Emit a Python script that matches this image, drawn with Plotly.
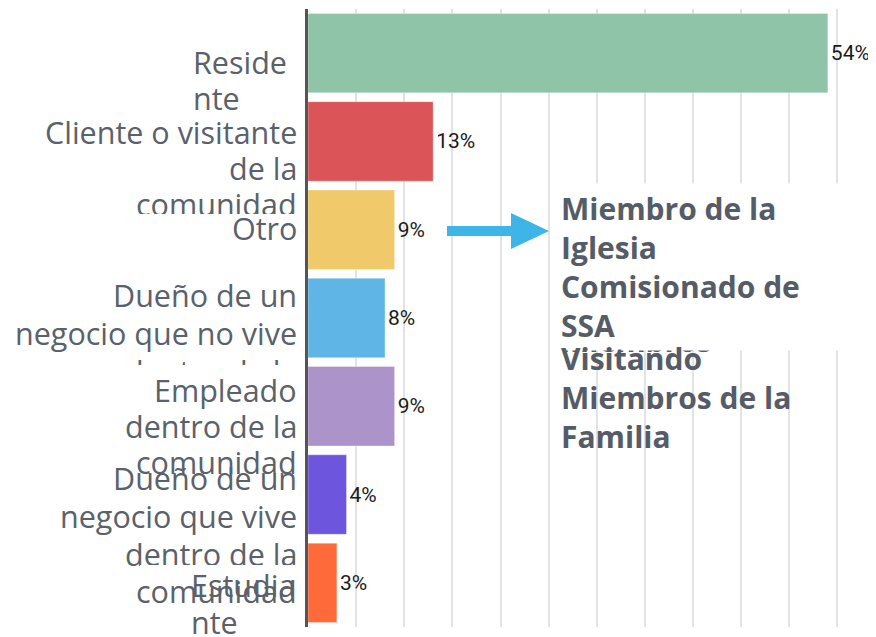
import plotly.graph_objects as go

# ---- data ----
categories = [
    "Residente",
    "Cliente o visitante de la comunidad",
    "Otro",
    "Dueño de un negocio que no vive dentro de la comunidad",
    "Empleado dentro de la comunidad",
    "Dueño de un negocio que vive dentro de la comunidad",
    "Estudiante",
]
values = [54, 13, 9, 8, 9, 4, 3]
value_labels = ["54%", "13%", "9%", "8%", "9%", "4%", "3%"]
label_lines = [
    ["Reside", "nte"],
    ["Cliente o visitante", "de la", "comunidad"],
    ["Otro"],
    ["Dueño de un", "negocio que no vive", "dentro de la", "comunidad"],
    ["Empleado", "dentro de la", "comunidad"],
    ["Dueño de un", "negocio que vive", "dentro de la", "comunidad"],
    ["Estudia", "nte"],
]
colors = ["#8FC4A8", "#DB5457", "#F0CA6A", "#5FB6E6", "#AC93C9", "#6D55DD", "#FF6A3A"]
other_box_text = "Miembro de la<br>Iglesia<br>Comisionado de<br>SSA"
other_hidden_text = "Miembros"
other_extra_text = "Visitando<br>Miembros de la<br>Familia"

# ---- style / layout (page pixels; the page body has an 8px margin) ----
BODY = 8
W, H = 876, 629
PLOT_RIGHT = 876          # page x where the plot area ends
ML, MT, MB = 300, 1, 10
MR = W + BODY - PLOT_RIGHT
PW, PH = W - ML - MR, H - MT - MB
X_MAX = 59

LABEL_SIZE = 30.5
label_first_baseline = [74, 144, 240, 307, 402, 490, 597]
label_step = [35.5, 36, 36, 38, 36, 37.7, 37]
label_anchor = [("left", 192), ("right", 298), ("right", 298), ("right", 298),
                ("right", 298), ("right", 298), ("left", 190)]
# white masks drawn before a given label: (label index, x0, x1, y0, y1)
masks = [
    (2, 130, 305, 214, 222),   # clips foot of "comunidad" above "Otro"
    (4, 0, 305, 365, 425),     # hides the tail of the label above "Empleado"
]
ARROW_COLOR = "#3DB5E6"


def px_x(px):
    return (px - BODY - ML) / PW


def px_y(py):
    return 1 - (py - BODY - MT) / PH


fig = go.Figure()
fig.add_trace(go.Bar(
    orientation="h",
    y=categories,
    x=values,
    text=value_labels,
    textposition="outside",
    constraintext="none",
    cliponaxis=False,
    textfont=dict(family="Roboto", size=21, color="#1a1a1a"),
    marker=dict(color=colors, line=dict(color="rgba(255,255,255,0.35)", width=1)),
    hoverinfo="skip",
))

annotations = []
label_font = dict(family="Open Sans", size=LABEL_SIZE, color="#5a616b")


def add_mask(x0, x1, y0, y1):
    annotations.append(dict(
        x=px_x(x0), xref="paper", y=px_y(y0), yref="paper", text=" ",
        showarrow=False, xanchor="left", yanchor="top", width=x1 - x0,
        height=y1 - y0, bgcolor="white", borderpad=0, borderwidth=0,
    ))


def add_line(text, anchor, x, baseline):
    centre = baseline - 0.357 * LABEL_SIZE - 1
    annotations.append(dict(
        x=px_x(x), xref="paper", y=px_y(centre), yref="paper", text=text,
        showarrow=False, xanchor=anchor, yanchor="middle", align=anchor,
        font=label_font, borderpad=0,
    ))


for i, lines in enumerate(label_lines):
    for m in masks:
        if m[0] == i:
            add_mask(*m[1:])
    anchor, x = label_anchor[i]
    for j, line in enumerate(lines):
        if i == 5 and j == 3:
            add_mask(140, 305, 565, 573)  # cut at the foot of "dentro de la"
        add_line(line, anchor, x, label_first_baseline[i] + j * label_step[i])

bold_font = dict(family="Open Sans", size=30, color="#555c67", weight="bold")
annotations.append(dict(
    x=px_x(556), xref="paper", y=px_y(340), yref="paper",
    text="<b>%s</b>" % other_hidden_text, showarrow=False,
    xanchor="left", yanchor="middle", align="left", font=bold_font, borderpad=4,
))
annotations.append(dict(
    x=px_x(556), xref="paper", y=px_y(183), yref="paper",
    text="<b>%s</b>" % other_box_text, showarrow=False,
    xanchor="left", yanchor="top", align="left", font=bold_font,
    bgcolor="white", borderpad=4, width=281,
))
annotations.append(dict(
    x=px_x(556), xref="paper", y=px_y(397), yref="paper",
    text="<b>%s</b>" % other_extra_text, showarrow=False,
    xanchor="left", yanchor="middle", align="left", font=bold_font, borderpad=4,
))

# arrow pointing at the "other" answers (decoration)
shapes = [
    dict(type="line", xref="paper", yref="paper", layer="above",
         x0=px_x(447), x1=px_x(513), y0=px_y(231), y1=px_y(231),
         line=dict(color=ARROW_COLOR, width=10)),
    dict(type="path", xref="paper", yref="paper", layer="above",
         path="M %f %f L %f %f L %f %f Z" % (px_x(511), px_y(213), px_x(549), px_y(231),
                                             px_x(511), px_y(249)),
         fillcolor=ARROW_COLOR, line=dict(width=0)),
]

fig.update_layout(
    width=W, height=H,
    margin=dict(l=ML, r=MR, t=MT, b=MB),
    paper_bgcolor="white", plot_bgcolor="white",
    showlegend=False,
    bargap=0.1,
    annotations=annotations,
    shapes=shapes,
    xaxis=dict(range=[0, X_MAX], dtick=5, tick0=0, showgrid=True,
               gridcolor="#e3e3e3", gridwidth=1.5, showticklabels=False,
               zeroline=False, showline=False, ticks=""),
    yaxis=dict(categoryorder="array", categoryarray=categories,
               range=[len(categories) - 0.5, -0.5], autorange=False,
               showticklabels=False, showgrid=False,
               showline=True, linecolor="#555555", linewidth=2.5, ticks="",
               zeroline=False),
)

fig.write_html("out.html")
